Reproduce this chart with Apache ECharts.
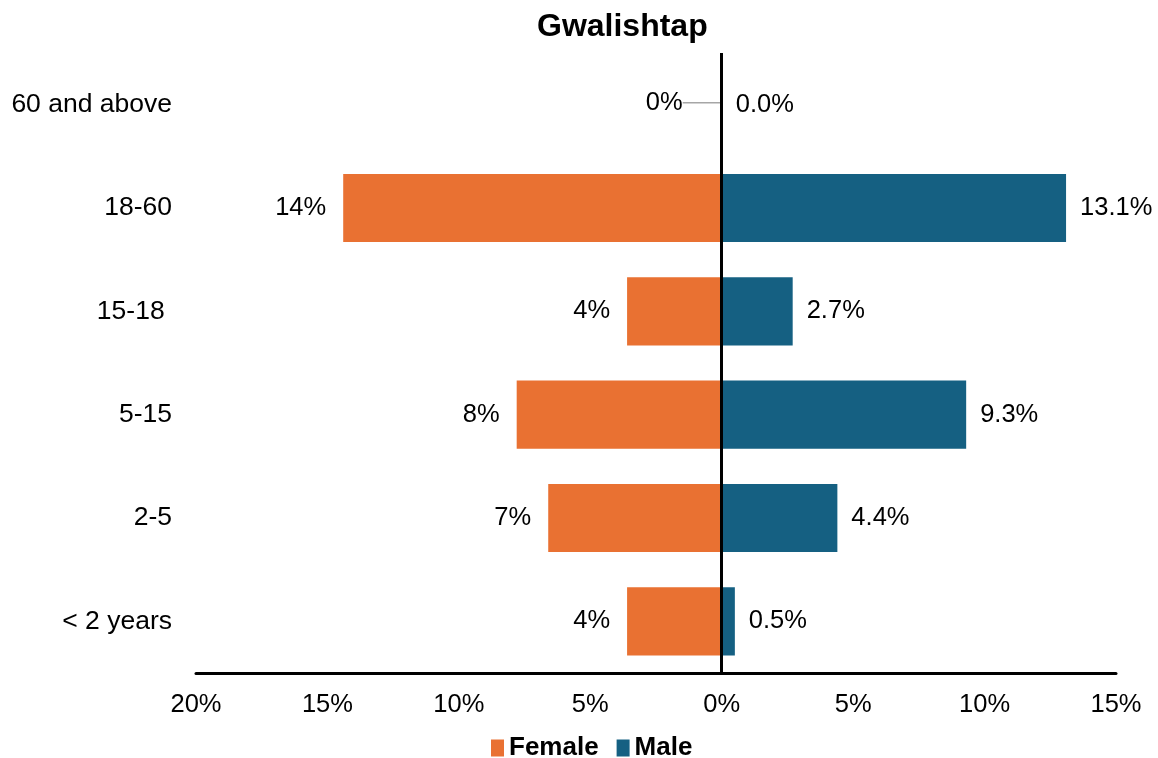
<!DOCTYPE html>
<html><head><meta charset="utf-8">
<script src="https://cdn.jsdelivr.net/npm/echarts@6/dist/echarts.min.js"></script>
<style>html,body{margin:0;padding:0;background:#fff}#c{width:1158px;height:758px}</style>
</head><body><div id="c"></div>
<script>
const categories = ["< 2 years", "2-5", "5-15", "15-18 ", "18-60", "60 and above"];
const femaleValues = [3.6, 6.6, 7.8, 3.6, 14.4, 0];
const maleValues = [0.5, 4.4, 9.3, 2.7, 13.1, 0.0];
const xTicks = {min: -20, max: 15, interval: 5};
const FONT = "'Liberation Sans', Arial, sans-serif";

const chart = echarts.init(document.getElementById('c'), null, {renderer: 'canvas'});
chart.setOption({
  animation: false,
  textStyle: {fontFamily: FONT},
  title: {text: 'Gwalishtap', left: 532, top: 6,
    textStyle: {fontFamily: FONT, fontWeight: 'bold', fontSize: 32, color: '#000'}},
  legend: {data: ['Female', 'Male'], top: 730, left: 486,
    itemWidth: 13, itemHeight: 17, itemGap: 18, icon: 'rect',
    textStyle: {fontFamily: FONT, fontWeight: 'bold', fontSize: 26, color: '#000'}},
  grid: {left: 196, right: 42, top: 53, bottom: 85, containLabel: false},
  xAxis: {type: 'value', min: xTicks.min, max: xTicks.max, interval: xTicks.interval,
    axisLine: {show: true, onZero: false, lineStyle: {color: '#000', width: 3}},
    axisTick: {show: false}, splitLine: {show: false},
    axisLabel: {margin: 19, fontSize: 25.5, color: '#000', fontFamily: FONT,
      formatter: v => Math.abs(v) + '%'}},
  yAxis: {type: 'category', data: categories,
    axisLine: {show: false}, axisTick: {show: false},
    axisLabel: {margin: 24, fontSize: 26.5, color: '#000', fontFamily: FONT, padding: [4, 0, 0, 0]}},
  series: [
    {name: 'Female', type: 'bar', barCategoryGap: '34%', barGap: '-100%',
      itemStyle: {color: '#E97132'},
      data: femaleValues.map((v, i) => i === 5
        ? {value: -v, labelLine: {show: true, lineStyle: {color: '#A6A6A6', width: 1.5}}}
        : {value: -v}),
      label: {show: true, position: 'left', distance: 17, fontSize: 25.5, color: '#000', fontFamily: FONT,
        padding: [4, 0, 0, 0],
        formatter: p => Math.round(Math.abs(p.value)) + '%'},
      labelLayout: p => p.dataIndex === 5 ? {dx: -22, dy: -2} : {},
      labelLine: {show: false},
      markLine: {silent: true, symbol: 'none', label: {show: false},
        lineStyle: {color: '#000', width: 3, type: 'solid'},
        data: [{xAxis: 0}]}
    },
    {name: 'Male', type: 'bar', barCategoryGap: '34%', barGap: '-100%',
      itemStyle: {color: '#156082'},
      data: maleValues,
      label: {show: true, position: 'right', distance: 14, fontSize: 25.5, color: '#000', fontFamily: FONT,
        padding: [4, 0, 0, 0],
        formatter: p => p.value.toFixed(1) + '%'}
    }
  ]
});
</script></body></html>
